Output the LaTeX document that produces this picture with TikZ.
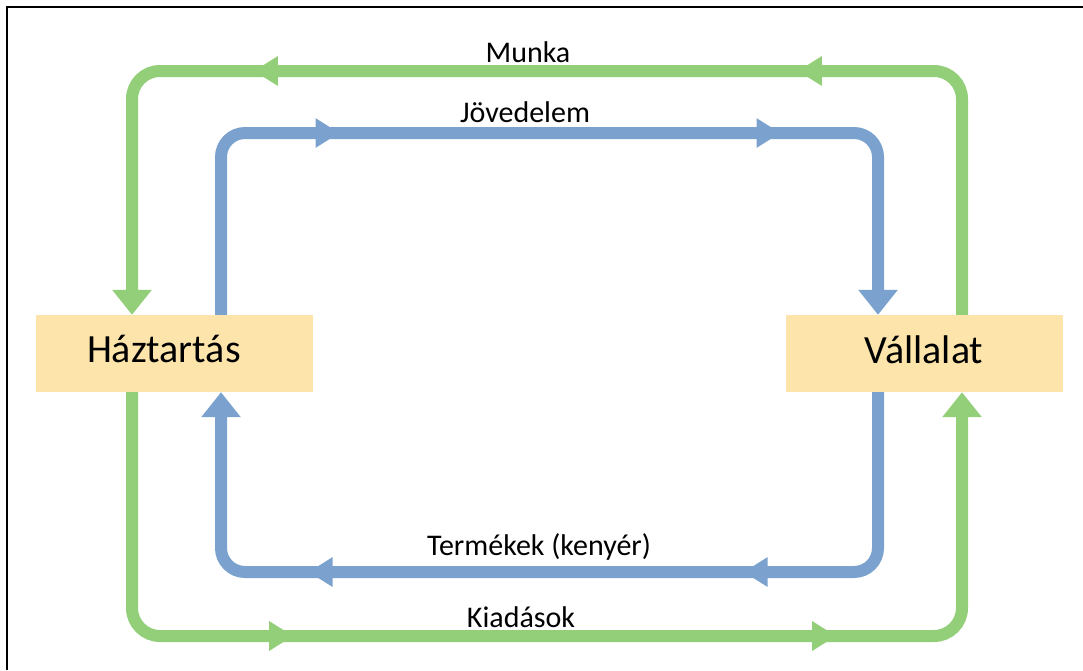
\documentclass[tikz,border=0pt]{standalone}
\usepackage{fontspec}
\setmainfont{Carlito}
\usetikzlibrary{arrows.meta,decorations.markings}
\definecolor{gflowc}{RGB}{147,207,120}
\definecolor{bflowc}{RGB}{123,162,207}
\definecolor{boxc}{RGB}{252,228,170}
\tikzset{
  box/.style={fill=boxc, draw=none, minimum width=277pt, minimum height=77pt,
              inner sep=0pt, font=\fontsize{40}{48}\selectfont, text height=25pt},
  lbl/.style={anchor=base, inner sep=0pt, font=\fontsize{30}{36}\selectfont},
  flow/.style={line width=12pt, rounded corners=#1, line join=miter,
               -{Triangle[length=25pt,width=38pt]}},
  gflow/.style={flow=28pt, color=gflowc},
  bflow/.style={flow=24pt, color=bflowc},
  mids/.style 2 args={postaction={decorate}, decoration={markings,
      mark=at position #1 with {\arrow{Triangle[length=24pt,width=28pt]}},
      mark=at position #2 with {\arrow{Triangle[length=24pt,width=28pt]}}}},
}
\begin{document}
\begin{tikzpicture}[x=1pt,y=-1pt]
\useasboundingbox (0,0) rectangle (1083,670);
\fill[white] (0,0) rectangle (1083,670);
\coordinate (border0) at (6.5,670);
\coordinate (border1) at (6.5,6.5);
\coordinate (border2) at (1083,6.5);
\draw[line width=2pt] (border0) -- (border1) -- (border2);

% boxes
\node[box, text depth=8pt, text width=175pt, align=left, inner xsep=51pt] (h) at (174.5,353.5) {Háztartás};
\node[box, text depth=6pt] (v) at (924,353.5) {Vállalat};

% corner coordinates
\coordinate (gTL) at (132,71);
\coordinate (gTR) at (962,71);
\coordinate (gBL) at (132,636);
\coordinate (gBR) at (962,636);
\coordinate (bTL) at (221,133);
\coordinate (bTR) at (878,133);
\coordinate (bBL) at (221,572);
\coordinate (bBR) at (878,572);

% flows
\draw[gflow, mids={396pt}{940pt}] (gTR |- v.north) -- (gTR) -- (gTL) -- (gTL |- h.north);
\draw[gflow, mids={393pt}{936pt}] (gBL |- h.south) -- (gBL) -- (gBR) -- (gBR |- v.south);
\draw[bflow, mids={290pt}{731pt}] (bTL |- h.north) -- (bTL) -- (bTR) -- (bTR |- v.north);
\draw[bflow, mids={304pt}{739pt}] (bBR |- v.south) -- (bBR) -- (bBL) -- (bBL |- h.south);

% labels
\node[lbl] (munka) at (528,62) {Munka};
\node[lbl] (jov) at (525,122) {Jövedelem};
\node[lbl] (term) at (539,555) {Termékek (kenyér)};
\node[lbl] (kiad) at (521,627) {Kiadások};
\end{tikzpicture}
\end{document}
